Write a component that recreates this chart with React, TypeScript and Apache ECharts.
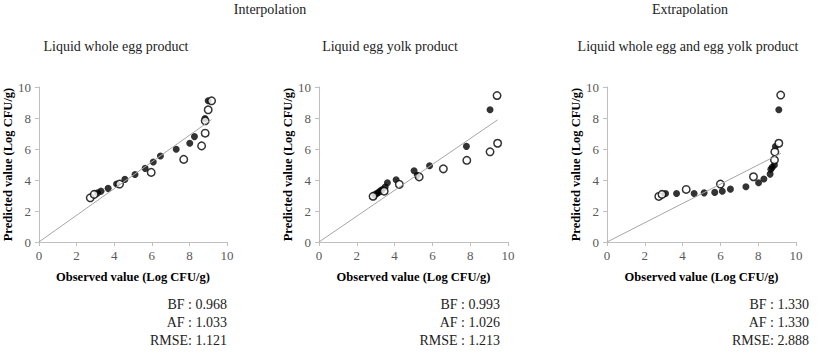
import React, { useEffect, useRef } from "react";
import * as echarts from "echarts";

// ---- data ----
const panelTitles = ["Liquid whole egg product", "Liquid egg yolk product", "Liquid whole egg and egg yolk product"];
const groupTitles = ["Interpolation", "Extrapolation"];
const xTicks = [0, 2, 4, 6, 8, 10];

const p1Filled = [[3.12, 3.17], [3.3, 3.28], [3.68, 3.46], [4.13, 3.74], [4.57, 4.04], [5.11, 4.36], [5.65, 4.75], [6.08, 5.16], [6.46, 5.55], [7.3, 5.98], [8.02, 6.37], [8.27, 6.8], [8.83, 7.97], [9.0, 9.11]];
const p1Open = [[2.73, 2.85], [2.94, 3.07], [4.29, 3.74], [5.97, 4.49], [7.7, 5.33], [8.65, 6.2], [8.84, 7.02], [8.84, 7.82], [9.0, 8.53], [9.18, 9.11]];
const p1Trend = [[0, 0], [9.18, 7.9]];

const p2Filled = [[2.95, 3.05], [3.05, 3.12], [3.15, 3.2], [3.25, 3.3], [3.35, 3.38], [3.5, 3.55], [3.62, 3.82], [4.08, 4.02], [5.03, 4.6], [5.2, 4.3], [5.85, 4.92], [7.8, 6.17], [9.05, 8.53]];
const p2Open = [[2.86, 2.95], [3.45, 3.28], [4.25, 3.72], [5.3, 4.2], [6.58, 4.72], [7.82, 5.27], [9.05, 5.82], [9.45, 6.37], [9.42, 9.45]];
const p2Trend = [[0, 0], [9.45, 7.88]];

const p3Filled = [[3.1, 3.13], [3.68, 3.13], [4.61, 3.13], [5.14, 3.17], [5.7, 3.2], [6.1, 3.28], [6.53, 3.41], [7.35, 3.56], [8.02, 3.82], [8.3, 4.06], [8.63, 4.38], [8.67, 4.69], [8.74, 4.82], [8.86, 4.97], [8.91, 6.16], [9.09, 8.53]];
const p3Open = [[2.74, 2.94], [2.91, 3.07], [4.19, 3.39], [6.0, 3.74], [7.75, 4.21], [8.86, 5.29], [8.88, 5.81], [9.09, 6.37], [9.19, 9.48]];
const p3Trend = [[0, 0], [9.2, 5.72]];

const statsBF = ["BF : 0.968", "BF : 0.993", "BF : 1.330"];
const statsAF = ["AF : 1.033", "AF : 1.026", "AF : 1.330"];
const statsRMSE = ["RMSE: 1.121", "RMSE : 1.213", "RMSE: 2.888"];

const xName = "Observed value (Log CFU/g)";
const yName = "Predicted value (Log CFU/g)";

const FONT = "'Liberation Serif', 'Times New Roman', serif";

export default function App() {
  const ref = useRef<HTMLDivElement>(null);
  useEffect(() => {
    if (!ref.current) return;
    const chart = echarts.init(ref.current, null, { renderer: "svg" });
    const lefts = [38, 319, 607];
    const filled = [p1Filled, p2Filled, p3Filled];
    const open = [p1Open, p2Open, p3Open];
    const trend = [p1Trend, p2Trend, p3Trend];
    const grids = lefts.map((l) => ({ left: l, top: 87, width: 189, height: 155 }));
    const axisLine = { show: true, lineStyle: { color: "#bfbfbf", width: 1 } };
    const axisTick = { show: true, length: 4, lineStyle: { color: "#bfbfbf" } };
    const xAxes = lefts.map((_, i) => ({
      type: "value", gridIndex: i, min: xTicks[0], max: xTicks[xTicks.length - 1], interval: 2,
      axisLine, axisTick, splitLine: { show: false },
      axisLabel: { color: "#595959", fontFamily: FONT, fontSize: 13, margin: 7 },
      name: xName, nameLocation: "middle", nameGap: 28,
      nameTextStyle: { color: "#000", fontFamily: FONT, fontSize: 12.5, fontWeight: "bold" },
    }));
    const yAxes = lefts.map((_, i) => ({
      type: "value", gridIndex: i, min: 0, max: 10, interval: 2,
      axisLine, axisTick, splitLine: { show: false },
      axisLabel: { color: "#595959", fontFamily: FONT, fontSize: 13, margin: 8 },
      name: yName, nameLocation: "middle", nameGap: 23,
      nameTextStyle: { color: "#000", fontFamily: FONT, fontSize: 12.5, fontWeight: "bold" },
    }));
    const series: any[] = [];
    lefts.forEach((_, i) => {
      series.push({
        type: "line", xAxisIndex: i, yAxisIndex: i, data: trend[i], symbol: "none",
        lineStyle: { color: "#a6a6a6", width: 1 }, silent: true,
      });
      series.push({
        type: "scatter", xAxisIndex: i, yAxisIndex: i, data: filled[i], symbol: "circle", symbolSize: 7,
        itemStyle: { color: "#000" },
      });
      series.push({
        type: "scatter", xAxisIndex: i, yAxisIndex: i, data: open[i], symbol: "circle", symbolSize: 7.5,
        itemStyle: { color: "#fff", borderColor: "#000", borderWidth: 1.5 },
      });
    });
    const textStyle = (t: string, x: number, y: number, align: string) => ({
      type: "text", x, y,
      style: { text: t, fill: "#222", font: `14px ${FONT}`, textAlign: align, textVerticalAlign: "middle" },
    });
    const rights = [227, 500, 809];
    const graphics: any[] = [
      textStyle(groupTitles[0], 270, 9, "center"),
      textStyle(groupTitles[1], 690, 9, "center"),
      textStyle(panelTitles[0], 116, 46, "center"),
      textStyle(panelTitles[1], 390, 46, "center"),
      textStyle(panelTitles[2], 688, 46, "center"),
    ];
    rights.forEach((r, i) => {
      graphics.push(textStyle(statsBF[i], r, 304, "right"));
      graphics.push(textStyle(statsAF[i], r, 322, "right"));
      graphics.push(textStyle(statsRMSE[i], r, 340, "right"));
    });
    chart.setOption({
      animation: false,
      backgroundColor: "#fff",
      grid: grids,
      xAxis: xAxes,
      yAxis: yAxes,
      series,
      graphic: graphics,
    });
    return () => chart.dispose();
  }, []);
  return <div ref={ref} style={{ position: "absolute", left: 0, top: 0, width: 827, height: 353 }} />;
}
